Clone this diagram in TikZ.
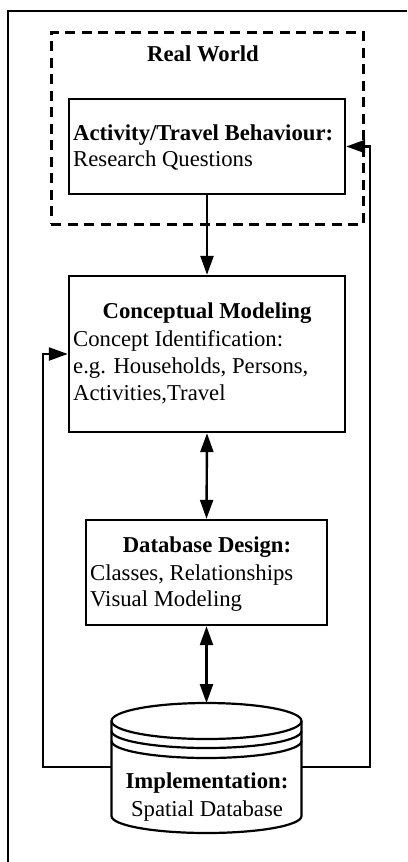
\documentclass[tikz,border=0pt]{standalone}
\usepackage{fontspec}
\setmainfont{Liberation Serif}
\usetikzlibrary{arrows.meta}
\begin{document}
\begin{tikzpicture}[x=1pt,y=-1pt,
  box/.style={draw,line width=2.4pt,inner sep=0pt,fill=none},
  txt/.style={inner sep=0pt,font=\fontsize{22.7}{27}\selectfont},
  btxt/.style={inner sep=0pt,font=\fontsize{22.7}{27}\selectfont\bfseries},
  arr/.style={line width=2.4pt,-{Triangle[length=19pt,width=13pt]}},
  darr/.style={line width=2.4pt,{Triangle[length=19pt,width=13pt]}-{Triangle[length=19pt,width=13pt]}},
]
\useasboundingbox (0,0) rectangle (407,862);
% outer frame (right and bottom beyond the picture)
\draw[line width=2.6pt] (407,11) -- (8,11) -- (8,862);
% dashed real world box
\node[draw,line width=3pt,dash pattern=on 10pt off 6.5pt,inner sep=0pt,minimum width=312pt,minimum height=192pt] (rw) at (207,128) {};
\node[btxt,anchor=base] (rwt) at (203,61) {Real World};
% boxes
\node[box,minimum width=276pt,minimum height=95pt] (act) at (207,146.5) {};
\node[btxt,anchor=base west] (act1) at (73,140) {Activity/Travel Behaviour:};
\node[txt,anchor=base west] (act2) at (73,166.5) {Research Questions};

\node[box,minimum width=276pt,minimum height=156pt] (con) at (207,354) {};
\node[btxt,anchor=base] (con1) at (207,318.5) {Conceptual Modeling};
\node[txt,anchor=base west] (con2) at (73,346.5) {Concept Identification:};
\node[txt,anchor=base west] (con3) at (73,373.5) {e.g. Households, Persons,};
\node[txt,anchor=base west] (con4) at (73,400.5) {Activities,Travel};

\node[box,minimum width=241pt,minimum height=105pt] (db) at (206.5,572.5) {};
\node[btxt,anchor=base] (db1) at (207,552) {Database Design:};
\node[txt,anchor=base west] (db2) at (90,580.5) {Classes, Relationships};
\node[txt,anchor=base west] (db3) at (90,606.5) {Visual Modeling};

% cylinder
\coordinate (cyltop) at (206.5,703);
\coordinate (cylL) at (111.5,767);
\coordinate (cylR) at (301.5,767);
\begin{scope}[line width=2.2pt]
\filldraw[fill=white] (111.5,721) -- (111.5,816) arc[start angle=180,end angle=360,x radius=95pt,y radius=17pt] -- (301.5,721);
\draw (206.5,721) ellipse[x radius=95pt,y radius=18pt];
\draw (111.5,731) arc[start angle=180,end angle=360,x radius=95pt,y radius=17pt];
\draw (111.5,741) arc[start angle=180,end angle=360,x radius=95pt,y radius=17pt];
\end{scope}
\node[btxt,anchor=base] (imp1) at (207,788) {Implementation:};
\node[txt,anchor=base] (imp2) at (207,816.5) {Spatial Database};

% connectors
\draw[arr] (act.south) -- (con.north);
\draw[darr] (con.south) -- (db.north);
\draw[darr] (db.south) -- (cyltop);
\draw[arr] (cylR) -- ++(68.5,0) |- (act.east);
\draw[arr] (cylL) -- ++(-68.5,0) |- (con.west);
\end{tikzpicture}
\end{document}
